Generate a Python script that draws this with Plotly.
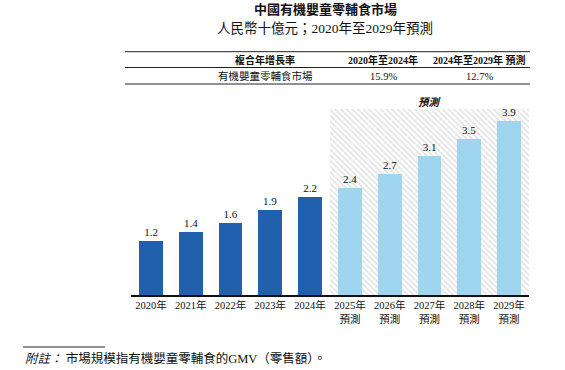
import plotly.graph_objects as go

# ---------------- data ----------------
years_actual = ["2020年", "2021年", "2022年", "2023年", "2024年"]
years_forecast = ["2025年<br>預測", "2026年<br>預測", "2027年<br>預測", "2028年<br>預測", "2029年<br>預測"]
values_actual = [1.2, 1.4, 1.6, 1.9, 2.2]
values_forecast = [2.4, 2.7, 3.1, 3.5, 3.9]

title_main = "中國有機嬰童零輔食市場"
title_sub = "人民幣十億元；2020年至2029年預測"
table_header = ["複合年增長率", "2020年至2024年", "2024年至2029年 預測"]
table_row = ["有機嬰童零輔食市場", "15.9%", "12.7%"]
forecast_label = "預測"
footnote_label = "附註："
footnote_text = "市場規模指有機嬰童零輔食的GMV（零售額）。"

# ---------------- style ----------------
W, H = 565, 370
ML, MR, MT, MB = 131, 36, 103, 75
PW, PH = W - ML - MR, H - MT - MB
Y_MAX = 4.295
BG_TOP = 4.16
DARK = "#2160ad"
LIGHT = "#9fd5ef"
FONT = "Liberation Serif, Noto Sans CJK TC, serif"


def px(x):
    return (x - ML) / PW


def py(y):
    return (H - MB - y) / PH


fig = go.Figure()

# hatched forecast background
fig.add_trace(go.Bar(
    x=years_forecast, y=[BG_TOP] * len(years_forecast), width=1.0,
    marker=dict(color="white", line=dict(width=0),
                pattern=dict(shape="\\", fgcolor="#bdbdbd", bgcolor="white",
                             size=4, solidity=0.35)),
    hoverinfo="skip", showlegend=False,
))

fig.add_trace(go.Bar(
    x=years_actual, y=values_actual, width=0.6,
    marker=dict(color=DARK, line=dict(width=0)),
    text=[f"{v:.1f}" for v in values_actual], textposition="outside",
    textfont=dict(family=FONT, size=11, color="#111111"),
    cliponaxis=False, showlegend=False,
))
fig.add_trace(go.Bar(
    x=years_forecast, y=values_forecast, width=0.6,
    marker=dict(color=LIGHT, line=dict(width=0)),
    text=[f"{v:.1f}" for v in values_forecast], textposition="outside",
    textfont=dict(family=FONT, size=11, color="#111111"),
    cliponaxis=False, showlegend=False,
))

annotations = []
# titles
annotations.append(dict(x=px(325), y=py(9), xref="paper", yref="paper", text=f"<b>{title_main}</b>",
                        showarrow=False, font=dict(family=FONT, size=13, color="#111"),
                        xanchor="center", yanchor="middle"))
annotations.append(dict(x=px(325), y=py(28), xref="paper", yref="paper", text=title_sub,
                        showarrow=False, font=dict(family=FONT, size=13.5, color="#111"),
                        xanchor="center", yanchor="middle"))
# table
col_x = [265, 383, 479]
for cx, txt in zip(col_x, table_header):
    annotations.append(dict(x=px(cx), y=py(59.5), xref="paper", yref="paper", text=f"<b>{txt}</b>",
                            showarrow=False, font=dict(family=FONT, size=10, color="#111"),
                            xanchor="center", yanchor="middle"))
for cx, txt in zip(col_x, table_row):
    annotations.append(dict(x=px(cx), y=py(76), xref="paper", yref="paper", text=txt,
                            showarrow=False, font=dict(family=FONT, size=10.5, color="#111"),
                            xanchor="center", yanchor="middle"))
# forecast label
annotations.append(dict(x=7, y=BG_TOP, xref="x", yref="y", text=f"<b><i>{forecast_label}</i></b>",
                        showarrow=False, font=dict(family=FONT, size=10.5, color="#111"),
                        xanchor="center", yanchor="bottom", yshift=-1))
# footnote
annotations.append(dict(x=px(23), y=py(358), xref="paper", yref="paper",
                        text=f"<i>{footnote_label}</i> {footnote_text}",
                        showarrow=False, font=dict(family=FONT, size=12.5, color="#111"),
                        xanchor="left", yanchor="middle"))

shapes = []
for yy in (51.7, 67.5, 84):
    shapes.append(dict(type="line", xref="paper", yref="paper", x0=px(125), x1=px(530),
                       y0=py(yy), y1=py(yy), line=dict(color="#222", width=1)))
shapes.append(dict(type="line", xref="paper", yref="paper", x0=px(23), x1=px(105),
                   y0=py(347), y1=py(347), line=dict(color="#222", width=1)))

fig.update_layout(
    width=W, height=H,
    margin=dict(l=ML, r=MR, t=MT, b=MB),
    paper_bgcolor="white", plot_bgcolor="white",
    barmode="overlay", bargap=0,
    font=dict(family=FONT, size=10.5, color="#111"),
    xaxis=dict(type="category", categoryorder="array", categoryarray=years_actual + years_forecast,
               range=[-0.5, 9.5], showline=True, linecolor="#111", linewidth=1.5,
               ticks="", showgrid=False, zeroline=False,
               tickfont=dict(family=FONT, size=10.5, color="#111")),
    yaxis=dict(range=[0, Y_MAX], visible=False, showgrid=False, zeroline=False),
    annotations=annotations, shapes=shapes,
)

fig.write_html("out.html", config={"displayModeBar": False},
               post_script="document.body.style.margin='0';")
